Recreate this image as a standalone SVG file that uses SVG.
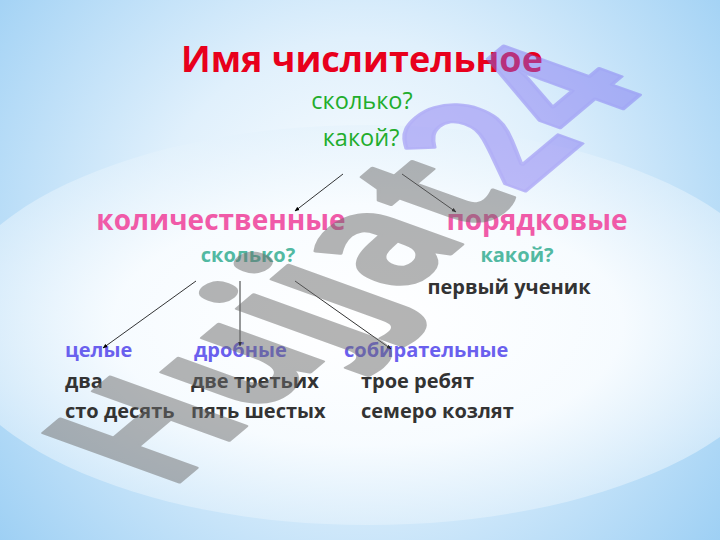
<svg xmlns="http://www.w3.org/2000/svg" width="720" height="540" viewBox="0 0 720 540">
<defs>
<radialGradient id="bg" cx="360" cy="250" r="470" gradientUnits="userSpaceOnUse">
<stop offset="0" stop-color="#ffffff"/>
<stop offset="0.45" stop-color="#e0f0fc"/>
<stop offset="1" stop-color="#9ccff4"/>
</radialGradient>
<radialGradient id="ell" cx="0.5" cy="0.5" r="0.5">
<stop offset="0" stop-color="#ffffff" stop-opacity="1"/>
<stop offset="0.6" stop-color="#f8fcff" stop-opacity="0.95"/>
<stop offset="1" stop-color="#e4f2fc" stop-opacity="0.6"/>
</radialGradient>
<marker id="ah" viewBox="0 0 10 10" refX="9" refY="5" markerWidth="6" markerHeight="6" orient="auto">
<path d="M0,1 L10,5 L0,9 z" fill="#000"/>
</marker>
<style>
text{font-family:"Open Sans","Noto Sans","DejaVu Sans",sans-serif;}
.t{font-weight:bold;font-size:36px;fill:#e8001c;}
.q{font-size:23.5px;fill:#22ad2c;}
.p{font-weight:bold;font-size:28px;fill:#f05aa8;}
.s{font-weight:bold;font-size:20px;fill:#52b9a2;}
.b{font-weight:bold;font-size:20px;fill:#6a60ee;}
.d{font-weight:bold;font-size:20px;fill:#333333;}
.c line{stroke:#000;stroke-width:0.8;marker-end:url(#ah);}
</style>
</defs>
<rect width="720" height="540" fill="url(#bg)"/>
<ellipse cx="368" cy="325" rx="425" ry="200" fill="url(#ell)"/>
<g id="title"><text class="t" x="362" y="72" text-anchor="middle">Имя числительное</text></g>
<g id="q1"><text class="q" x="362" y="109" text-anchor="middle">сколько?</text></g>
<g id="q2"><text class="q" x="361" y="146" text-anchor="middle">какой?</text></g>
<g id="kol"><text class="p" x="221" y="230" text-anchor="middle">количественные</text></g>
<g id="por"><text class="p" x="537" y="230" text-anchor="middle">порядковые</text></g>
<g id="kol-q"><text class="s" x="248" y="262" text-anchor="middle">сколько?</text></g>
<g id="por-q"><text class="s" x="517" y="262" text-anchor="middle">какой?</text></g>
<g id="por-ex"><text class="d" x="509" y="294" text-anchor="middle">первый ученик</text></g>
<g id="cel"><text class="b" x="65" y="357">целые</text><text class="d" x="65" y="388">два</text><text class="d" x="65" y="418">сто десять</text></g>
<g id="drob"><text class="b" x="194" y="357">дробные</text><text class="d" x="191" y="388">две третьих</text><text class="d" x="191" y="418">пять шестых</text></g>
<g id="sob"><text class="b" x="344" y="357">собирательные</text><text class="d" x="361" y="388">трое ребят</text><text class="d" x="361" y="418">семеро козлят</text></g>
<g id="connectors" class="c">
<line x1="343" y1="174" x2="295" y2="211"/>
<line x1="402" y1="174" x2="456" y2="212"/>
<line x1="196" y1="281" x2="103" y2="348"/>
<line x1="240" y1="281" x2="240" y2="346"/>
<line x1="295" y1="281" x2="391" y2="349"/>
</g>
<g id="watermark" opacity="0.5">
<g transform="matrix(0.881,-0.741,1.466,0.53,169,491)" font-weight="bold" font-size="130" stroke-width="2.5" stroke-linejoin="round">
<text x="0" y="0"><tspan fill="#6c6c6c" stroke="#6c6c6c">Hujjat</tspan><tspan fill="#7d6ef2" stroke="#7d6ef2" fill-opacity="0.9" stroke-opacity="0.9">24</tspan></text>
</g>
</g>
</svg>
